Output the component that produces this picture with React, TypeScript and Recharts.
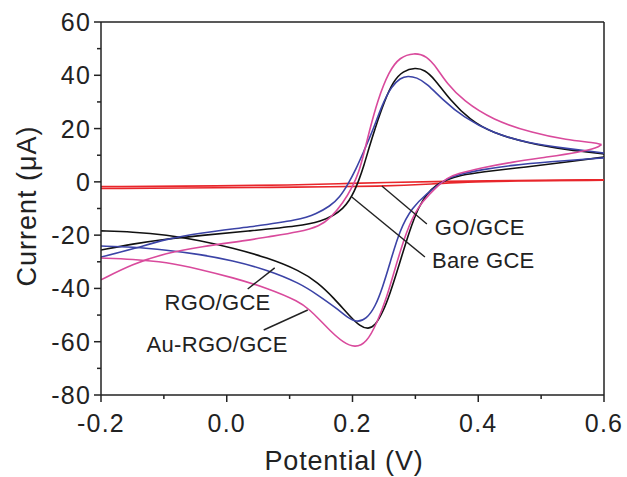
import React from "react";
import {
  LineChart,
  Line,
  XAxis,
  YAxis,
  ReferenceLine,
  ReferenceDot,
  Customized,
} from "recharts";

type Pt = [number, number];

// Potential (V), Current (µA) pairs. Anodic sweep left->right, cathodic sweep (stored left->right)
const bareAnodic: Pt[] = [
  [-0.2, -25.6], [-0.15, -23.3], [-0.096, -21.4], [-0.043, -20.2], [0.037, -18.4],
  [0.116, -16.6], [0.151, -14.7], [0.17, -12.6], [0.185, -10.0], [0.195, -7.0],
  [0.203, -3.5], [0.21, 0.5], [0.218, 6.0], [0.226, 12.5], [0.235, 19.5],
  [0.251, 30.5], [0.265, 37.8], [0.28, 41.6], [0.3, 42.9], [0.315, 42.0],
  [0.33, 38.8], [0.355, 30.7], [0.387, 23.2], [0.423, 18.3], [0.478, 14.6],
  [0.541, 12.0], [0.6, 10.5],
];
const bareCathodic: Pt[] = [
  [-0.2, -18.4], [-0.15, -18.8], [-0.096, -19.9], [-0.043, -22.0], [0.009, -24.8],
  [0.064, -28.4], [0.116, -33.3], [0.145, -37.8], [0.17, -43.5], [0.196, -50.5],
  [0.212, -54.2], [0.225, -55.3], [0.236, -54.0], [0.248, -49.0], [0.259, -42.5],
  [0.275, -30.5], [0.291, -18.1], [0.305, -9.5], [0.318, -4.5], [0.334, -1.0],
  [0.35, 0.9], [0.371, 2.4], [0.403, 3.7], [0.478, 5.6], [0.541, 7.5], [0.6, 9.3],
];

const rgoAnodic: Pt[] = [
  [-0.2, -28.2], [-0.15, -25.3], [-0.096, -21.4], [-0.043, -19.2], [0.037, -16.9],
  [0.116, -14.3], [0.143, -11.9], [0.164, -9.2], [0.18, -5.7], [0.193, -0.8],
  [0.205, 4.5], [0.218, 11.5], [0.231, 18.5], [0.248, 29.5], [0.262, 35.8],
  [0.276, 39.0], [0.288, 39.8], [0.302, 39.2], [0.318, 37.0], [0.344, 30.7],
  [0.376, 24.3], [0.423, 18.3], [0.478, 14.6], [0.541, 12.5], [0.6, 10.8],
];
const rgoCathodic: Pt[] = [
  [-0.2, -24.1], [-0.15, -24.4], [-0.096, -25.6], [-0.043, -27.2], [0.009, -29.5],
  [0.064, -33.0], [0.116, -38.0], [0.145, -42.5], [0.175, -47.5], [0.191, -50.8],
  [0.207, -52.8], [0.222, -51.5], [0.236, -47.0], [0.248, -39.5], [0.259, -31.0],
  [0.275, -18.1], [0.295, -9.5], [0.318, -4.5], [0.334, -1.5], [0.35, 1.1],
  [0.366, 2.6], [0.403, 4.5], [0.455, 6.3], [0.509, 7.5], [0.6, 9.0],
];

const auAnodic: Pt[] = [
  [-0.2, -36.8], [-0.15, -30.8], [-0.096, -26.7], [-0.043, -24.4], [0.037, -21.8],
  [0.064, -20.7], [0.116, -18.8], [0.148, -16.6], [0.165, -13.6], [0.185, -7.9],
  [0.2, -1.9], [0.21, 3.5], [0.218, 10.5], [0.226, 18.3], [0.24, 30.7],
  [0.258, 41.5], [0.275, 46.8], [0.298, 48.5], [0.318, 47.3], [0.335, 42.5],
  [0.35, 37.0], [0.376, 30.5], [0.423, 23.2], [0.487, 18.3], [0.541, 15.7],
  [0.585, 14.7], [0.596, 14.0],
];
const auCathodic: Pt[] = [
  [-0.2, -28.6], [-0.15, -29.0], [-0.096, -30.1], [-0.043, -32.8], [0.009, -35.9],
  [0.064, -39.8], [0.116, -45.0], [0.132, -48.1], [0.148, -51.8], [0.164, -55.8],
  [0.185, -60.3], [0.204, -62.3], [0.222, -60.5], [0.239, -53.0], [0.255, -43.0],
  [0.267, -33.1], [0.286, -18.1], [0.305, -9.0], [0.323, -4.5], [0.337, -1.2],
  [0.35, 1.4], [0.366, 3.0], [0.403, 5.2], [0.455, 7.5], [0.509, 9.3],
  [0.562, 11.2], [0.589, 12.7], [0.596, 14.0],
];

const goAnodic: Pt[] = [
  [-0.2, -1.8], [0.0, -1.5], [0.1, -1.2], [0.18, -0.7], [0.25, -0.2],
  [0.35, 0.2], [0.45, 0.5], [0.6, 0.8],
];
const goCathodic: Pt[] = [
  [-0.2, -2.5], [0.0, -2.2], [0.1, -2.0], [0.25, -1.7], [0.33, -0.8],
  [0.38, 0.0], [0.45, 0.3], [0.6, 0.6],
];

const xTicks = [-0.2, -0.1, 0.0, 0.1, 0.2, 0.3, 0.4, 0.5, 0.6];
const yTicks = [-80, -70, -60, -50, -40, -30, -20, -10, 0, 10, 20, 30, 40, 50, 60];

const labels = [
  { text: "GO/GCE", at: [0.331, -19.9], from: [0.2467, -1.55], to: [0.3183, -15.8] },
  { text: "Bare GCE", at: [0.3263, -32.3], from: [0.1989, -5.7], to: [0.3152, -28.2] },
  { text: "RGO/GCE", at: [-0.0989, -48.1], from: [0.0333, -40.2], to: [0.0763, -32.3] },
  { text: "Au-RGO/GCE", at: [-0.1275, -63.9], from: [0.0588, -55.6], to: [0.1288, -48.1] },
];

const FONT = "'Liberation Sans', Arial, Helvetica, sans-serif";
const AXIS = "#222";
const TXT = "#222";

const toData = (pts: Pt[]) => pts.map(([x, y]) => ({ x, y }));

const XTick = (props: any) => {
  const { x, y, payload } = props;
  const v = payload.value as number;
  const major = Math.abs(Math.round(v * 10)) % 2 === 0;
  return (
    <g>
      <line x1={x} x2={x} y1={y} y2={y + (major ? 7 : 4)} stroke={AXIS} strokeWidth={1.5} />
      {major && (
        <text x={x} y={y + 37} textAnchor="middle" fontSize={25} letterSpacing={1.2} fontFamily={FONT} fill={TXT}>
          {v.toFixed(1)}
        </text>
      )}
    </g>
  );
};

const YTick = (props: any) => {
  const { x, y, payload } = props;
  const v = payload.value as number;
  const major = Math.round(v) % 20 === 0;
  return (
    <g>
      <line x1={x} x2={x - (major ? 7 : 4)} y1={y} y2={y} stroke={AXIS} strokeWidth={1.5} />
      {major && (
        <text x={x - 10} y={y + 9} textAnchor="end" fontSize={25} letterSpacing={1.2} fontFamily={FONT} fill={TXT}>
          {v}
        </text>
      )}
    </g>
  );
};

const Titles = () => (
  <g>
    <text x={344} y={470} textAnchor="middle" fontSize={27} letterSpacing={0.8} fontFamily={FONT} fill={TXT}>
      Potential (V)
    </text>
    <text
      x={36}
      y={206}
      transform="rotate(-90 36 206)"
      textAnchor="middle"
      fontSize={27}
      letterSpacing={1}
      fontFamily={FONT}
      fill={TXT}
    >
      Current (μA)
    </text>
  </g>
);

const makeLabel = (text: string) => (props: any) => {
  const vb = props.viewBox || {};
  return (
    <text x={vb.x + 1} y={vb.y + 1} fontSize={22} letterSpacing={0.3} fontFamily={FONT} fill={TXT}>
      {text}
    </text>
  );
};

const series = [
  { name: "GO/GCE anodic", data: goAnodic, color: "#e8262b" },
  { name: "GO/GCE cathodic", data: goCathodic, color: "#e8262b" },
  { name: "Bare GCE anodic", data: bareAnodic, color: "#111111" },
  { name: "Bare GCE cathodic", data: bareCathodic, color: "#111111" },
  { name: "RGO/GCE anodic", data: rgoAnodic, color: "#3b43a6" },
  { name: "RGO/GCE cathodic", data: rgoCathodic, color: "#3b43a6" },
  { name: "Au-RGO/GCE anodic", data: auAnodic, color: "#d94a9c" },
  { name: "Au-RGO/GCE cathodic", data: auCathodic, color: "#d94a9c" },
];

export default function App() {
  return (
    <div style={{ position: "absolute", left: 0, top: 0, background: "#fff" }}>
      <LineChart width={627} height={477} margin={{ top: 22, right: 23, bottom: 0, left: 0 }}>
        <XAxis
          type="number"
          dataKey="x"
          domain={[-0.2, 0.6]}
          ticks={xTicks}
          interval={0}
          allowDataOverflow
          height={82}
          tickSize={0}
          tickMargin={0}
          tickLine={false}
          axisLine={{ stroke: AXIS, strokeWidth: 1.5 }}
          tick={<XTick />}
        />
        <YAxis
          type="number"
          dataKey="y"
          domain={[-80, 60]}
          ticks={yTicks}
          interval={0}
          allowDataOverflow
          width={101}
          tickSize={0}
          tickMargin={0}
          tickLine={false}
          axisLine={{ stroke: AXIS, strokeWidth: 1.5 }}
          tick={<YTick />}
        />
        <ReferenceLine y={60} stroke={AXIS} strokeWidth={1.5} />
        <ReferenceLine x={0.6} stroke={AXIS} strokeWidth={1.5} />
        {series.map((s) => (
          <Line
            key={s.name}
            name={s.name}
            data={toData(s.data)}
            dataKey="y"
            type="basis"
            stroke={s.color}
            strokeWidth={1.6}
            dot={false}
            activeDot={false}
            isAnimationActive={false}
          />
        ))}
        {labels.map((l) => (
          <ReferenceLine
            key={l.text + "-lead"}
            segment={[
              { x: l.from[0], y: l.from[1] },
              { x: l.to[0], y: l.to[1] },
            ]}
            stroke="#222"
            strokeWidth={1.4}
          />
        ))}
        {labels.map((l) => (
          <ReferenceDot
            key={l.text}
            x={l.at[0]}
            y={l.at[1]}
            r={1}
            fill="none"
            stroke="none"
            label={makeLabel(l.text)}
          />
        ))}
        <Customized component={Titles} />
      </LineChart>
    </div>
  );
}
